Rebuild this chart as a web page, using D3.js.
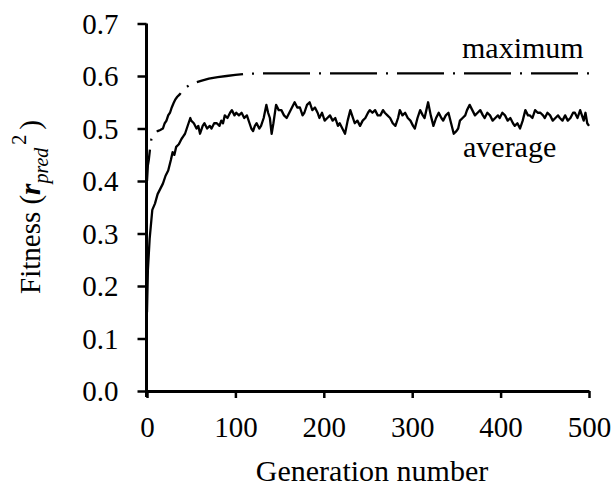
<!DOCTYPE html>
<html>
<head>
<meta charset="utf-8">
<script src="https://d3js.org/d3.v7.min.js"></script>
<style>
  body { margin: 0; background: #fff; }
</style>
</head>
<body>
<div id="chart"></div>
<script>
// x tick values / y tick values
var xTicks = [0, 100, 200, 300, 400, 500];
var yTicks = [0, 0.1, 0.2, 0.3, 0.4, 0.5, 0.6, 0.7];

// average fitness per generation
var avgGeneration = [0, 1, 3, 6, 9, 12, 15, 18, 21, 24, 27, 29, 31, 33, 36, 39, 41, 43, 45, 47, 49, 50, 53, 56, 58, 60, 63, 65, 68, 71, 73, 76, 79, 82, 84, 86, 88, 91, 94, 96, 99, 101, 104, 107, 110, 113, 116, 118, 120, 122, 124, 127, 129, 132, 135, 137, 139, 141, 143, 146, 149, 152, 155, 158, 161, 164, 167, 170, 173, 176, 178, 181, 184, 187, 190, 193, 195, 198, 201, 204, 207, 210, 213, 216, 218, 221, 224, 227, 230, 232, 235, 238, 241, 244, 247, 250, 252, 255, 258, 261, 264, 267, 269, 272, 275, 278, 281, 284, 286, 289, 292, 295, 298, 301, 303, 306, 309, 312, 314, 316, 318, 321, 324, 327, 330, 333, 335, 338, 341, 344, 347, 350, 352, 354, 357, 360, 362, 365, 368, 371, 374, 377, 380, 382, 385, 388, 391, 394, 397, 399, 402, 405, 408, 411, 414, 416, 419, 422, 425, 428, 431, 433, 436, 439, 442, 445, 448, 450, 453, 456, 459, 462, 465, 467, 470, 473, 476, 479, 482, 484, 487, 490, 492, 494, 496, 498, 500];
var avgFitness = [0.15, 0.23, 0.29, 0.345, 0.357, 0.375, 0.385, 0.395, 0.41, 0.42, 0.44, 0.455, 0.45, 0.465, 0.47, 0.48, 0.485, 0.49, 0.50, 0.51, 0.52, 0.515, 0.51, 0.50, 0.505, 0.49, 0.505, 0.51, 0.50, 0.505, 0.50, 0.51, 0.51, 0.505, 0.515, 0.51, 0.525, 0.52, 0.53, 0.535, 0.525, 0.53, 0.525, 0.53, 0.52, 0.525, 0.51, 0.50, 0.495, 0.505, 0.51, 0.50, 0.505, 0.52, 0.545, 0.53, 0.52, 0.49, 0.51, 0.545, 0.535, 0.535, 0.525, 0.52, 0.53, 0.54, 0.55, 0.54, 0.54, 0.525, 0.53, 0.545, 0.55, 0.535, 0.54, 0.53, 0.52, 0.53, 0.515, 0.52, 0.525, 0.515, 0.52, 0.505, 0.51, 0.50, 0.49, 0.515, 0.535, 0.525, 0.51, 0.515, 0.505, 0.515, 0.52, 0.53, 0.535, 0.53, 0.535, 0.525, 0.525, 0.535, 0.53, 0.525, 0.52, 0.51, 0.505, 0.52, 0.535, 0.525, 0.53, 0.52, 0.515, 0.505, 0.50, 0.52, 0.535, 0.525, 0.52, 0.535, 0.55, 0.525, 0.505, 0.52, 0.53, 0.52, 0.515, 0.525, 0.53, 0.51, 0.49, 0.495, 0.50, 0.515, 0.52, 0.525, 0.535, 0.545, 0.535, 0.525, 0.53, 0.535, 0.525, 0.52, 0.53, 0.525, 0.515, 0.52, 0.525, 0.52, 0.53, 0.525, 0.515, 0.52, 0.51, 0.505, 0.51, 0.50, 0.515, 0.535, 0.525, 0.525, 0.52, 0.535, 0.53, 0.53, 0.525, 0.52, 0.53, 0.525, 0.515, 0.52, 0.525, 0.52, 0.515, 0.525, 0.515, 0.52, 0.53, 0.53, 0.52, 0.535, 0.525, 0.515, 0.53, 0.51, 0.505];

// maximum fitness per generation
var maxGeneration = [0, 1, 2, 4, 5, 7, 9, 12, 15, 18, 20, 22, 24, 26, 28, 30, 32, 34, 37, 40, 44, 48, 52, 56, 62, 70, 80, 90, 100, 110, 130, 500];
var maxFitness = [0.40, 0.43, 0.44, 0.47, 0.48, 0.487, 0.492, 0.495, 0.497, 0.50, 0.51, 0.515, 0.525, 0.53, 0.54, 0.548, 0.555, 0.56, 0.565, 0.572, 0.578, 0.583, 0.586, 0.588, 0.591, 0.595, 0.598, 0.600, 0.602, 0.604, 0.605, 0.605];

var width = 614, height = 487;
var serif = "'Liberation Serif', 'DejaVu Serif', 'Times New Roman', serif";

var svg = d3.select("#chart").append("svg")
    .attr("width", width)
    .attr("height", height)
    .attr("font-family", serif);

var x = d3.scaleLinear().domain([0, 500]).range([147, 589]);
var y = d3.scaleLinear().domain([0, 0.7]).range([391, 23.5]);

// y axis
var yAxis = svg.append("g")
    .attr("transform", "translate(146.5,0)")
    .call(d3.axisLeft(y).tickValues(yTicks).tickSize(9).tickSizeOuter(0).tickPadding(0).tickFormat(d3.format(".1f")));
yAxis.attr("font-family", serif);
yAxis.select(".domain").attr("stroke-width", 3).attr("d", "M0," + y(0.7) + "V" + (y(0) + 6));
yAxis.selectAll(".tick line").attr("stroke-width", 2.5);
yAxis.selectAll(".tick text")
    .attr("x", -28)
    .attr("dy", "0.34em")
    .style("font-size", "29px");

// x axis
var xAxis = svg.append("g")
    .attr("transform", "translate(0," + y(0) + ")")
    .call(d3.axisBottom(x).tickValues(xTicks).tickSize(7).tickSizeOuter(0).tickPadding(0));
xAxis.attr("font-family", serif);
xAxis.select(".domain").attr("stroke-width", 3);
xAxis.selectAll(".tick line").attr("stroke-width", 2.5);
xAxis.selectAll(".tick text")
    .attr("y", 46)
    .attr("dy", 0)
    .style("font-size", "29px");

// axis titles
svg.append("text")
    .attr("x", 372)
    .attr("y", 481)
    .attr("text-anchor", "middle")
    .style("font-size", "30px")
    .text("Generation number");

var yt = svg.append("text")
    .attr("transform", "translate(40,207) rotate(-90)")
    .attr("text-anchor", "middle")
    .style("font-size", "29px");
yt.append("tspan").text("Fitness (");
yt.append("tspan").style("font-style", "italic").style("font-weight", "bold").text("r");
yt.append("tspan").style("font-style", "italic").style("font-size", "20px").attr("dy", 8).text("pred");
yt.append("tspan").style("font-size", "20px").attr("dy", -22).attr("dx", 3).text("2");
yt.append("tspan").attr("dy", 14).attr("dx", 5).text(")");

svg.selectAll("text").style("font-family", serif);

// lines
var avgData = avgGeneration.map(function (g, i) { return [g, avgFitness[i]]; });
var maxData = maxGeneration.map(function (g, i) { return [g, maxFitness[i]]; });

var line = d3.line()
    .x(function (d) { return x(d[0]); })
    .y(function (d) { return y(d[1]); });

svg.append("path")
    .datum(avgData)
    .attr("fill", "none")
    .attr("stroke", "#000")
    .attr("stroke-width", 2.3)
    .attr("stroke-linejoin", "round")
    .attr("d", line);

var maxPath = svg.append("path")
    .datum(maxData)
    .attr("fill", "none")
    .attr("stroke", "#000")
    .attr("stroke-width", 2.3)
    .attr("stroke-dasharray", "47,9,2,9")
    .attr("d", line);

// line up the dash pattern so a dash starts near generation 207
var total = maxPath.node().getTotalLength();
var lenAt = total - (x(500) - 330);
maxPath.attr("stroke-dashoffset", (67 - (lenAt % 67)) % 67);

// series labels
svg.append("text")
    .attr("x", 462)
    .attr("y", 58)
    .style("font-family", serif)
    .style("font-size", "30px")
    .text("maximum");

svg.append("text")
    .attr("x", 463)
    .attr("y", 157)
    .style("font-family", serif)
    .style("font-size", "30px")
    .text("average");
</script>
</body>
</html>
